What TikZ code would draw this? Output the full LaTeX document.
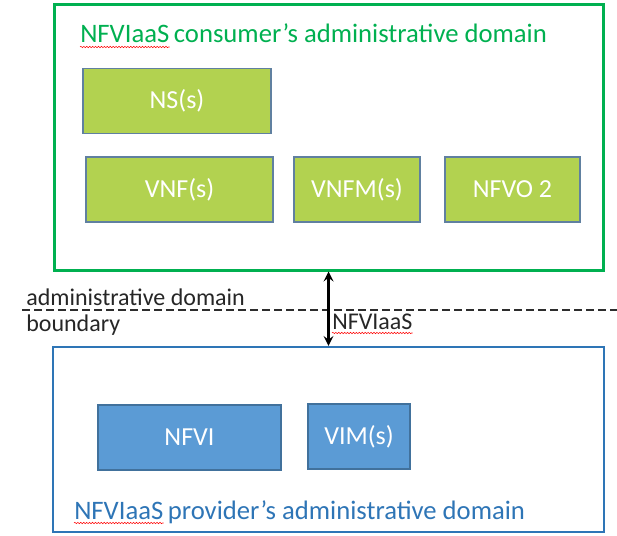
\documentclass[tikz,border=0pt]{standalone}
\usepackage{fontspec}
\setmainfont{Carlito}
\usepackage{tikz}
\usetikzlibrary{arrows, positioning, decorations.pathmorphing}
\usepackage{xcolor}
\definecolor{domaingreen}{RGB}{0,176,80}
\definecolor{nfvgreen}{RGB}{178,210,80}
\definecolor{nfvedge}{RGB}{96,128,160}
\definecolor{domainblue}{RGB}{46,117,182}
\definecolor{nfvblue}{RGB}{91,155,213}
\definecolor{blueedge}{RGB}{65,113,156}
\definecolor{boundarygray}{RGB}{45,45,45}
\tikzstyle{domainbox} = [rectangle, inner sep=0pt]
\tikzstyle{consumerfn} = [rectangle, minimum height=48.75pt, text centered, draw=nfvedge, fill=nfvgreen, text=white, font=\fontsize{19.5}{22}\selectfont, line width=0.8pt]
\tikzstyle{providerfn} = [rectangle, minimum height=48.75pt, text centered, draw=blueedge, fill=nfvblue, text=white, font=\fontsize{19.5}{22}\selectfont, line width=0.8pt]
\tikzstyle{domainlabel} = [anchor=base west, inner sep=0pt, font=\fontsize{20}{23}\selectfont]
\tikzstyle{boundarylabel} = [anchor=base west, inner sep=0pt, font=\fontsize{18}{20}\selectfont, text=black!85]
\tikzstyle{spellmark} = [red, line width=0.4pt, decorate, decoration={snake, amplitude=0.5pt, segment length=2.2pt}]
\tikzstyle{arrow} = [line width=2.2pt,<->,>=stealth,black]

\begin{document}
\begin{tikzpicture}[x=0.75pt, y=-0.75pt]
\useasboundingbox (0,0) rectangle (617,535);
% Administrative domains
\node[domainbox, draw=domaingreen, line width=2.25pt, minimum width=411.75pt, minimum height=198.75pt] (consumer) at (328.5,137.5) {};
\node[domainbox, draw=domainblue, line width=1.6pt, minimum width=413.25pt, minimum height=138.75pt] (provider) at (328.5,439.5) {};

\node[domainlabel, text=domaingreen] (consumerword) at (80,43) {NFVIaaS};
\node[domainlabel, text=domaingreen, xshift=3pt] (consumertitle) at (consumerword.base east) {consumer’s administrative domain};
\node[domainlabel, text=domainblue] (providerword) at (74,519) {NFVIaaS};
\node[domainlabel, text=domainblue, xshift=3pt] (providertitle) at (providerword.base east) {provider’s administrative domain};

% Consumer side
\node[consumerfn, minimum width=141pt] (ns) at (177,101) {NS(s)};
\node[consumerfn, minimum width=140.25pt] (vnf) at (179.5,189.5) {VNF(s)};
\node[consumerfn, minimum width=94.5pt] (vnfm) at (357,189.5) {VNFM(s)};
\node[consumerfn, minimum width=101.25pt] (nfvo) at (512.5,189.5) {NFVO 2};

% Provider side
\node[providerfn, minimum width=137.25pt] (nfvi) at (189.5,437.5) {NFVI};
\node[providerfn, minimum width=76.5pt] (vim) at (359,436.5) {VIM(s)};

% Boundary
\coordinate (bleft) at (22,310);
\coordinate (bright) at (617,310);
\draw[boundarygray, line width=1.6pt, dash pattern=on 6pt off 3pt] (bleft) -- (bright);
\node[boundarylabel] (boundtop) at (26,305) {administrative domain};
\node[boundarylabel] (boundbot) at (26,331) {boundary};

% Interface
\draw[arrow] (consumer.south) -- (provider.north);
\node[boundarylabel] (iface) at (332,329) {NFVIaaS};

% Spelling marks
\draw[spellmark] ([yshift=-3pt]consumerword.base west) -- ([yshift=-3pt]consumerword.base east);
\draw[spellmark] ([yshift=-3pt]providerword.base west) -- ([yshift=-3pt]providerword.base east);
\draw[spellmark] ([yshift=-3pt]iface.base west) -- ([yshift=-3pt]iface.base east);
\end{tikzpicture}
\end{document}
